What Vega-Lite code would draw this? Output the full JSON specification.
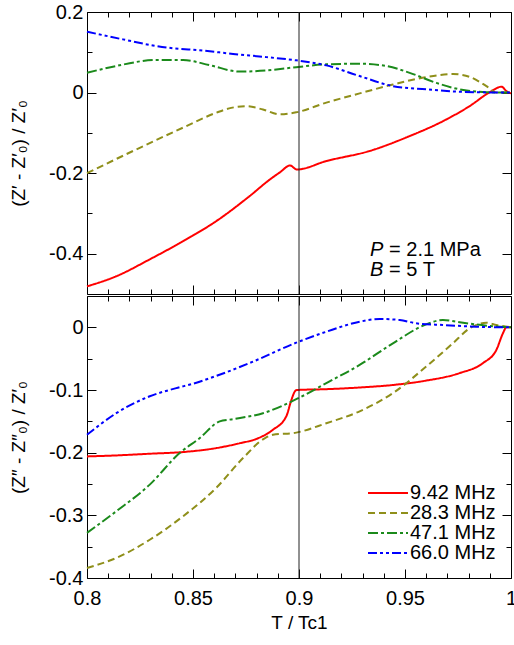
{
  "$schema": "https://vega.github.io/schema/vega-lite/v6.json",
  "padding": {"left": 9, "top": 1, "right": 0, "bottom": 0},
  "spacing": 0,
  "config": {
    "font": "Liberation Sans",
    "view": {"stroke": "#000", "strokeWidth": 1},
    "axis": {"domain": false, "grid": false, "ticks": true, "tickColor": "#000", "tickWidth": 1, "labelFont": "Liberation Sans", "labelFontSize": 20, "labelColor": "#000", "titleFont": "Liberation Sans", "titleFontSize": 19, "titleFontWeight": "normal", "titleColor": "#000", "labelFlush": false, "labelOverlap": false, "zindex": 1},
    "legend": {"labelFont": "Liberation Sans", "labelFontSize": 20, "labelColor": "#000", "symbolType": "stroke", "symbolSize": 1600, "symbolStrokeWidth": 2, "labelOffset": 1, "rowPadding": 0, "clipHeight": 20, "padding": 0, "title": null}
  },
  "datasets": {
    "top": [
      {"t": 0.8, "v": -0.481, "f": "9.42 MHz"}, {"t": 0.8138, "v": -0.456, "f": "9.42 MHz"}, {"t": 0.8296, "v": -0.414, "f": "9.42 MHz"}, {"t": 0.8453, "v": -0.369, "f": "9.42 MHz"}, {"t": 0.861, "v": -0.319, "f": "9.42 MHz"}, {"t": 0.8767, "v": -0.257, "f": "9.42 MHz"}, {"t": 0.8862, "v": -0.216, "f": "9.42 MHz"}, {"t": 0.891, "v": -0.198, "f": "9.42 MHz"}, {"t": 0.8958, "v": -0.181, "f": "9.42 MHz"}, {"t": 0.899, "v": -0.191, "f": "9.42 MHz"}, {"t": 0.9129, "v": -0.17, "f": "9.42 MHz"}, {"t": 0.9333, "v": -0.145, "f": "9.42 MHz"}, {"t": 0.9522, "v": -0.108, "f": "9.42 MHz"}, {"t": 0.9679, "v": -0.071, "f": "9.42 MHz"}, {"t": 0.9805, "v": -0.0335, "f": "9.42 MHz"}, {"t": 0.99, "v": 0.001, "f": "9.42 MHz"}, {"t": 0.9955, "v": 0.0145, "f": "9.42 MHz"}, {"t": 0.9978, "v": 0.004, "f": "9.42 MHz"}, {"t": 1.0, "v": -0.002, "f": "9.42 MHz"},
      {"t": 0.8, "v": -0.2, "f": "28.3 MHz"}, {"t": 0.8217, "v": -0.145, "f": "28.3 MHz"}, {"t": 0.8453, "v": -0.087, "f": "28.3 MHz"}, {"t": 0.861, "v": -0.05, "f": "28.3 MHz"}, {"t": 0.868, "v": -0.038, "f": "28.3 MHz"}, {"t": 0.8752, "v": -0.034, "f": "28.3 MHz"}, {"t": 0.883, "v": -0.042, "f": "28.3 MHz"}, {"t": 0.8909, "v": -0.054, "f": "28.3 MHz"}, {"t": 0.8987, "v": -0.049, "f": "28.3 MHz"}, {"t": 0.9129, "v": -0.025, "f": "28.3 MHz"}, {"t": 0.9286, "v": -0.002, "f": "28.3 MHz"}, {"t": 0.9443, "v": 0.02, "f": "28.3 MHz"}, {"t": 0.96, "v": 0.0385, "f": "28.3 MHz"}, {"t": 0.9726, "v": 0.046, "f": "28.3 MHz"}, {"t": 0.9805, "v": 0.039, "f": "28.3 MHz"}, {"t": 0.9884, "v": 0.016, "f": "28.3 MHz"}, {"t": 0.9931, "v": 0.0, "f": "28.3 MHz"}, {"t": 1.0, "v": 0.0, "f": "28.3 MHz"},
      {"t": 0.8, "v": 0.049, "f": "47.1 MHz"}, {"t": 0.8138, "v": 0.066, "f": "47.1 MHz"}, {"t": 0.8327, "v": 0.081, "f": "47.1 MHz"}, {"t": 0.8453, "v": 0.081, "f": "47.1 MHz"}, {"t": 0.8579, "v": 0.068, "f": "47.1 MHz"}, {"t": 0.872, "v": 0.052, "f": "47.1 MHz"}, {"t": 0.8846, "v": 0.055, "f": "47.1 MHz"}, {"t": 0.8987, "v": 0.063, "f": "47.1 MHz"}, {"t": 0.9129, "v": 0.07, "f": "47.1 MHz"}, {"t": 0.9286, "v": 0.0716, "f": "47.1 MHz"}, {"t": 0.9412, "v": 0.066, "f": "47.1 MHz"}, {"t": 0.9522, "v": 0.049, "f": "47.1 MHz"}, {"t": 0.9648, "v": 0.024, "f": "47.1 MHz"}, {"t": 0.9758, "v": 0.008, "f": "47.1 MHz"}, {"t": 0.9884, "v": 0.001, "f": "47.1 MHz"}, {"t": 1.0, "v": 0.0, "f": "47.1 MHz"},
      {"t": 0.8, "v": 0.151, "f": "66.0 MHz"}, {"t": 0.817, "v": 0.132, "f": "66.0 MHz"}, {"t": 0.8311, "v": 0.117, "f": "66.0 MHz"}, {"t": 0.8406, "v": 0.11, "f": "66.0 MHz"}, {"t": 0.8531, "v": 0.105, "f": "66.0 MHz"}, {"t": 0.8689, "v": 0.096, "f": "66.0 MHz"}, {"t": 0.8846, "v": 0.088, "f": "66.0 MHz"}, {"t": 0.8987, "v": 0.08, "f": "66.0 MHz"}, {"t": 0.9129, "v": 0.0675, "f": "66.0 MHz"}, {"t": 0.9286, "v": 0.041, "f": "66.0 MHz"}, {"t": 0.9443, "v": 0.016, "f": "66.0 MHz"}, {"t": 0.96, "v": 0.008, "f": "66.0 MHz"}, {"t": 0.9758, "v": 0.002, "f": "66.0 MHz"}, {"t": 0.9976, "v": 0.0, "f": "66.0 MHz"}, {"t": 1.0, "v": 0.0, "f": "66.0 MHz"}
    ],
    "bot": [
      {"t": 0.8, "v": -0.206, "f": "9.42 MHz"}, {"t": 0.8138, "v": -0.2044, "f": "9.42 MHz"}, {"t": 0.8296, "v": -0.2017, "f": "9.42 MHz"}, {"t": 0.8453, "v": -0.199, "f": "9.42 MHz"}, {"t": 0.861, "v": -0.1927, "f": "9.42 MHz"}, {"t": 0.872, "v": -0.185, "f": "9.42 MHz"}, {"t": 0.8807, "v": -0.177, "f": "9.42 MHz"}, {"t": 0.8877, "v": -0.1635, "f": "9.42 MHz"}, {"t": 0.894, "v": -0.142, "f": "9.42 MHz"}, {"t": 0.8964, "v": -0.116, "f": "9.42 MHz"}, {"t": 0.898, "v": -0.1025, "f": "9.42 MHz"}, {"t": 0.899, "v": -0.1, "f": "9.42 MHz"}, {"t": 0.9129, "v": -0.0987, "f": "9.42 MHz"}, {"t": 0.9286, "v": -0.096, "f": "9.42 MHz"}, {"t": 0.9443, "v": -0.092, "f": "9.42 MHz"}, {"t": 0.96, "v": -0.085, "f": "9.42 MHz"}, {"t": 0.9758, "v": -0.073, "f": "9.42 MHz"}, {"t": 0.9868, "v": -0.057, "f": "9.42 MHz"}, {"t": 0.9931, "v": -0.036, "f": "9.42 MHz"}, {"t": 0.9962, "v": -0.0095, "f": "9.42 MHz"}, {"t": 0.9978, "v": 0.0, "f": "9.42 MHz"}, {"t": 1.0, "v": 0.0, "f": "9.42 MHz"},
      {"t": 0.8, "v": -0.384, "f": "28.3 MHz"}, {"t": 0.8138, "v": -0.368, "f": "28.3 MHz"}, {"t": 0.8296, "v": -0.339, "f": "28.3 MHz"}, {"t": 0.8453, "v": -0.3015, "f": "28.3 MHz"}, {"t": 0.861, "v": -0.256, "f": "28.3 MHz"}, {"t": 0.8736, "v": -0.2086, "f": "28.3 MHz"}, {"t": 0.8838, "v": -0.177, "f": "28.3 MHz"}, {"t": 0.8877, "v": -0.1715, "f": "28.3 MHz"}, {"t": 0.8987, "v": -0.168, "f": "28.3 MHz"}, {"t": 0.9129, "v": -0.153, "f": "28.3 MHz"}, {"t": 0.9286, "v": -0.134, "f": "28.3 MHz"}, {"t": 0.9443, "v": -0.105, "f": "28.3 MHz"}, {"t": 0.96, "v": -0.0626, "f": "28.3 MHz"}, {"t": 0.9726, "v": -0.0255, "f": "28.3 MHz"}, {"t": 0.9805, "v": -0.0016, "f": "28.3 MHz"}, {"t": 0.9884, "v": 0.0075, "f": "28.3 MHz"}, {"t": 0.9931, "v": 0.0037, "f": "28.3 MHz"}, {"t": 1.0, "v": 0.0, "f": "28.3 MHz"},
      {"t": 0.8, "v": -0.328, "f": "47.1 MHz"}, {"t": 0.8138, "v": -0.2935, "f": "47.1 MHz"}, {"t": 0.8296, "v": -0.251, "f": "47.1 MHz"}, {"t": 0.8437, "v": -0.2006, "f": "47.1 MHz"}, {"t": 0.8531, "v": -0.177, "f": "47.1 MHz"}, {"t": 0.8626, "v": -0.15, "f": "47.1 MHz"}, {"t": 0.8689, "v": -0.1465, "f": "47.1 MHz"}, {"t": 0.883, "v": -0.137, "f": "47.1 MHz"}, {"t": 0.8987, "v": -0.1147, "f": "47.1 MHz"}, {"t": 0.9129, "v": -0.089, "f": "47.1 MHz"}, {"t": 0.9286, "v": -0.06, "f": "47.1 MHz"}, {"t": 0.9443, "v": -0.0255, "f": "47.1 MHz"}, {"t": 0.96, "v": 0.0048, "f": "47.1 MHz"}, {"t": 0.9679, "v": 0.0117, "f": "47.1 MHz"}, {"t": 0.9758, "v": 0.008, "f": "47.1 MHz"}, {"t": 0.9884, "v": 0.0027, "f": "47.1 MHz"}, {"t": 1.0, "v": 0.0, "f": "47.1 MHz"},
      {"t": 0.8, "v": -0.1715, "f": "66.0 MHz"}, {"t": 0.8138, "v": -0.137, "f": "66.0 MHz"}, {"t": 0.8296, "v": -0.11, "f": "66.0 MHz"}, {"t": 0.8421, "v": -0.097, "f": "66.0 MHz"}, {"t": 0.85, "v": -0.09, "f": "66.0 MHz"}, {"t": 0.861, "v": -0.0775, "f": "66.0 MHz"}, {"t": 0.8767, "v": -0.057, "f": "66.0 MHz"}, {"t": 0.8987, "v": -0.0245, "f": "66.0 MHz"}, {"t": 0.9129, "v": -0.007, "f": "66.0 MHz"}, {"t": 0.9286, "v": 0.009, "f": "66.0 MHz"}, {"t": 0.9381, "v": 0.0133, "f": "66.0 MHz"}, {"t": 0.9475, "v": 0.0117, "f": "66.0 MHz"}, {"t": 0.9553, "v": 0.0064, "f": "66.0 MHz"}, {"t": 0.9679, "v": 0.0037, "f": "66.0 MHz"}, {"t": 0.9836, "v": 0.001, "f": "66.0 MHz"}, {"t": 1.0, "v": 0.0, "f": "66.0 MHz"}
    ]
  },
  "resolve": {"legend": {"color": "independent", "strokeDash": "independent"}},
  "vconcat": [
    {
      "width": 424, "height": 282,
      "data": {"name": "top"},
      "layer": [
        {
          "mark": {"type": "line", "strokeWidth": 2, "interpolate": "monotone"},
          "encoding": {
            "x": {"field": "t", "type": "quantitative", "scale": {"domain": [0.8, 1], "nice": false, "zero": false}, "axis": {"orient": "bottom", "values": [0.8, 0.85, 0.9, 0.95, 1], "tickSize": -9, "labels": false, "title": null}},
            "y": {"field": "v", "type": "quantitative", "scale": {"domain": [-0.5, 0.2], "nice": false, "zero": false}, "axis": {"orient": "left", "values": [0.2, 0, -0.2, -0.4], "tickSize": -9, "labelPadding": 13, "labelExpr": "(datum.value < 0 ? '-' : '') + format(abs(datum.value), '~g')", "title": "(Z′ - Z′₀) / Z′₀", "titlePadding": 20}},
            "color": {"field": "f", "type": "nominal", "scale": {"domain": ["9.42 MHz", "28.3 MHz", "47.1 MHz", "66.0 MHz"], "range": ["#ff0000", "#8f8f1a", "#1b8a1b", "#0000ff"]}, "legend": null},
            "strokeDash": {"field": "f", "type": "nominal", "scale": {"domain": ["9.42 MHz", "28.3 MHz", "47.1 MHz", "66.0 MHz"], "range": [[1, 0], [7, 4], [10, 3, 3, 3], [9, 3, 3, 3, 3, 3]]}, "legend": null}
          }
        },
        {
          "mark": {"type": "point", "opacity": 0},
          "encoding": {
            "x": {"field": "t", "type": "quantitative", "scale": {"domain": [0.8, 1], "nice": false, "zero": false}, "axis": {"orient": "bottom", "values": [0.81, 0.82, 0.83, 0.84, 0.86, 0.87, 0.88, 0.89, 0.91, 0.92, 0.93, 0.94, 0.96, 0.97, 0.98, 0.99], "tickSize": -5, "labels": false, "title": null}},
            "y": {"field": "v", "type": "quantitative", "scale": {"domain": [-0.5, 0.2], "nice": false, "zero": false}, "axis": {"orient": "left", "values": [0.1, -0.1, -0.3], "tickSize": -5, "labels": false, "title": null}}
          }
        },
        {
          "mark": {"type": "point", "opacity": 0},
          "encoding": {
            "x": {"field": "t", "type": "quantitative", "scale": {"domain": [0.8, 1], "nice": false, "zero": false}, "axis": {"orient": "top", "values": [0.8, 0.85, 0.9, 0.95, 1], "tickSize": -9, "labels": false, "title": null}},
            "y": {"field": "v", "type": "quantitative", "scale": {"domain": [-0.5, 0.2], "nice": false, "zero": false}, "axis": {"orient": "right", "values": [0.2, 0, -0.2, -0.4], "tickSize": -9, "labels": false, "title": null}}
          }
        },
        {
          "mark": {"type": "point", "opacity": 0},
          "encoding": {
            "x": {"field": "t", "type": "quantitative", "scale": {"domain": [0.8, 1], "nice": false, "zero": false}, "axis": {"orient": "top", "values": [0.81, 0.82, 0.83, 0.84, 0.86, 0.87, 0.88, 0.89, 0.91, 0.92, 0.93, 0.94, 0.96, 0.97, 0.98, 0.99], "tickSize": -5, "labels": false, "title": null}},
            "y": {"field": "v", "type": "quantitative", "scale": {"domain": [-0.5, 0.2], "nice": false, "zero": false}, "axis": {"orient": "right", "values": [0.1, -0.1, -0.3], "tickSize": -5, "labels": false, "title": null}}
          }
        },
        {
          "data": {"values": [{}]},
          "mark": {"type": "rule", "color": "#222", "strokeWidth": 1},
          "encoding": {"x": {"datum": 0.9, "type": "quantitative", "axis": null}}
        },
        {
          "data": {"values": [{}]},
          "mark": {"type": "text", "align": "left", "baseline": "alphabetic", "fontSize": 20, "fontStyle": "italic", "fontWeight": "normal", "fill": "#000"},
          "encoding": {"x": {"datum": 0.9335, "type": "quantitative", "axis": null}, "y": {"datum": -0.406, "type": "quantitative", "axis": null}, "text": {"value": "P"}}
        },
        {
          "data": {"values": [{}]},
          "mark": {"type": "text", "align": "left", "baseline": "alphabetic", "fontSize": 20, "fontWeight": "normal", "fill": "#000"},
          "encoding": {"x": {"datum": 0.9425, "type": "quantitative", "axis": null}, "y": {"datum": -0.406, "type": "quantitative", "axis": null}, "text": {"value": "= 2.1 MPa"}}
        },
        {
          "data": {"values": [{}]},
          "mark": {"type": "text", "align": "left", "baseline": "alphabetic", "fontSize": 20, "fontStyle": "italic", "fontWeight": "normal", "fill": "#000"},
          "encoding": {"x": {"datum": 0.9335, "type": "quantitative", "axis": null}, "y": {"datum": -0.456, "type": "quantitative", "axis": null}, "text": {"value": "B"}}
        },
        {
          "data": {"values": [{}]},
          "mark": {"type": "text", "align": "left", "baseline": "alphabetic", "fontSize": 20, "fontWeight": "normal", "fill": "#000"},
          "encoding": {"x": {"datum": 0.9425, "type": "quantitative", "axis": null}, "y": {"datum": -0.456, "type": "quantitative", "axis": null}, "text": {"value": "= 5 T"}}
        }
      ],
      "resolve": {"axis": {"x": "independent", "y": "independent"}}
    },
    {
      "width": 424, "height": 282,
      "data": {"name": "bot"},
      "layer": [
        {
          "mark": {"type": "line", "strokeWidth": 2, "interpolate": "monotone"},
          "encoding": {
            "x": {"field": "t", "type": "quantitative", "scale": {"domain": [0.8, 1], "nice": false, "zero": false}, "axis": {"orient": "bottom", "values": [0.8, 0.85, 0.9, 0.95, 1], "tickSize": -9, "labelPadding": 19, "labelExpr": "format(datum.value, '~g')", "title": "T / Tc1", "titlePadding": 5}},
            "y": {"field": "v", "type": "quantitative", "scale": {"domain": [-0.4, 0.05], "nice": false, "zero": false}, "axis": {"orient": "left", "values": [0, -0.1, -0.2, -0.3, -0.4], "tickSize": -9, "labelPadding": 13, "labelExpr": "(datum.value < 0 ? '-' : '') + format(abs(datum.value), '~g')", "title": "(Z″ - Z″₀) / Z′₀", "titlePadding": 20}},
            "color": {"field": "f", "type": "nominal", "scale": {"domain": ["9.42 MHz", "28.3 MHz", "47.1 MHz", "66.0 MHz"], "range": ["#ff0000", "#8f8f1a", "#1b8a1b", "#0000ff"]}, "legend": {"orient": "bottom-right", "offset": 15}},
            "strokeDash": {"field": "f", "type": "nominal", "scale": {"domain": ["9.42 MHz", "28.3 MHz", "47.1 MHz", "66.0 MHz"], "range": [[1, 0], [7, 4], [10, 3, 3, 3], [9, 3, 3, 3, 3, 3]]}, "legend": {"orient": "bottom-right", "offset": 15}}
          }
        },
        {
          "mark": {"type": "point", "opacity": 0},
          "encoding": {
            "x": {"field": "t", "type": "quantitative", "scale": {"domain": [0.8, 1], "nice": false, "zero": false}, "axis": {"orient": "bottom", "values": [0.81, 0.82, 0.83, 0.84, 0.86, 0.87, 0.88, 0.89, 0.91, 0.92, 0.93, 0.94, 0.96, 0.97, 0.98, 0.99], "tickSize": -5, "labels": false, "title": null}},
            "y": {"field": "v", "type": "quantitative", "scale": {"domain": [-0.4, 0.05], "nice": false, "zero": false}, "axis": {"orient": "left", "values": [-0.05, -0.15, -0.25, -0.35], "tickSize": -5, "labels": false, "title": null}}
          }
        },
        {
          "mark": {"type": "point", "opacity": 0},
          "encoding": {
            "x": {"field": "t", "type": "quantitative", "scale": {"domain": [0.8, 1], "nice": false, "zero": false}, "axis": {"orient": "top", "values": [0.8, 0.85, 0.9, 0.95, 1], "tickSize": -9, "labels": false, "title": null}},
            "y": {"field": "v", "type": "quantitative", "scale": {"domain": [-0.4, 0.05], "nice": false, "zero": false}, "axis": {"orient": "right", "values": [0, -0.1, -0.2, -0.3, -0.4], "tickSize": -9, "labels": false, "title": null}}
          }
        },
        {
          "mark": {"type": "point", "opacity": 0},
          "encoding": {
            "x": {"field": "t", "type": "quantitative", "scale": {"domain": [0.8, 1], "nice": false, "zero": false}, "axis": {"orient": "top", "values": [0.81, 0.82, 0.83, 0.84, 0.86, 0.87, 0.88, 0.89, 0.91, 0.92, 0.93, 0.94, 0.96, 0.97, 0.98, 0.99], "tickSize": -5, "labels": false, "title": null}},
            "y": {"field": "v", "type": "quantitative", "scale": {"domain": [-0.4, 0.05], "nice": false, "zero": false}, "axis": {"orient": "right", "values": [-0.05, -0.15, -0.25, -0.35], "tickSize": -5, "labels": false, "title": null}}
          }
        },
        {
          "data": {"values": [{}]},
          "mark": {"type": "rule", "color": "#222", "strokeWidth": 1},
          "encoding": {"x": {"datum": 0.9, "type": "quantitative", "axis": null}}
        }
      ],
      "resolve": {"axis": {"x": "independent", "y": "independent"}}
    }
  ]
}
